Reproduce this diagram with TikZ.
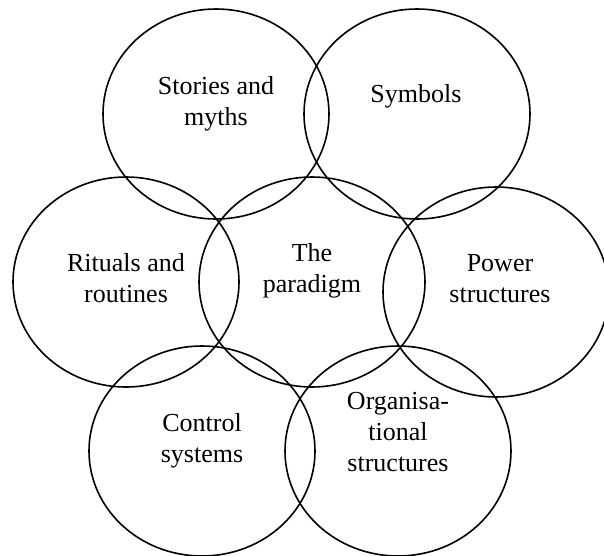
\documentclass[tikz,border=0pt]{standalone}
\usepackage{fontspec}
\setmainfont{Liberation Serif}
\usetikzlibrary{shapes.geometric}
\tikzset{
  ring/.style={ellipse, draw=black, line width=1.6pt, minimum width=226pt, minimum height=210pt, inner sep=0pt},
  lbl/.style={align=center, inner sep=0pt, font=\fontsize{26}{31}\selectfont}
}
\begin{document}
\begin{tikzpicture}[x=1pt,y=-1pt]
\useasboundingbox (0,0) rectangle (604,555);
\node[ring] (stories) at (216,114) {};
\node[ring] (symbols) at (417,114) {};
\node[ring] (rituals) at (126,282) {};
\node[ring] (paradigm) at (312,282) {};
\node[ring] (power) at (496,292) {};
\node[ring] (control) at (202,451) {};
\node[ring] (organ) at (398,451) {};
\node[lbl] (tstories) at (216,104) {Stories and\\myths};
\node[lbl, anchor=base] (tsymbols) at (416,102) {Symbols};
\node[lbl] (trituals) at (126,278) {Rituals and\\routines};
\node[lbl] (tparadigm) at (312,271) {The\\paradigm};
\node[lbl] (tpower) at (500,279) {Power\\structures};
\node[lbl] (tcontrol) at (202,441) {Control\\systems};
\node[lbl] (torgan) at (398,432) {Organisa-\\tional\\structures};
\end{tikzpicture}
\end{document}
